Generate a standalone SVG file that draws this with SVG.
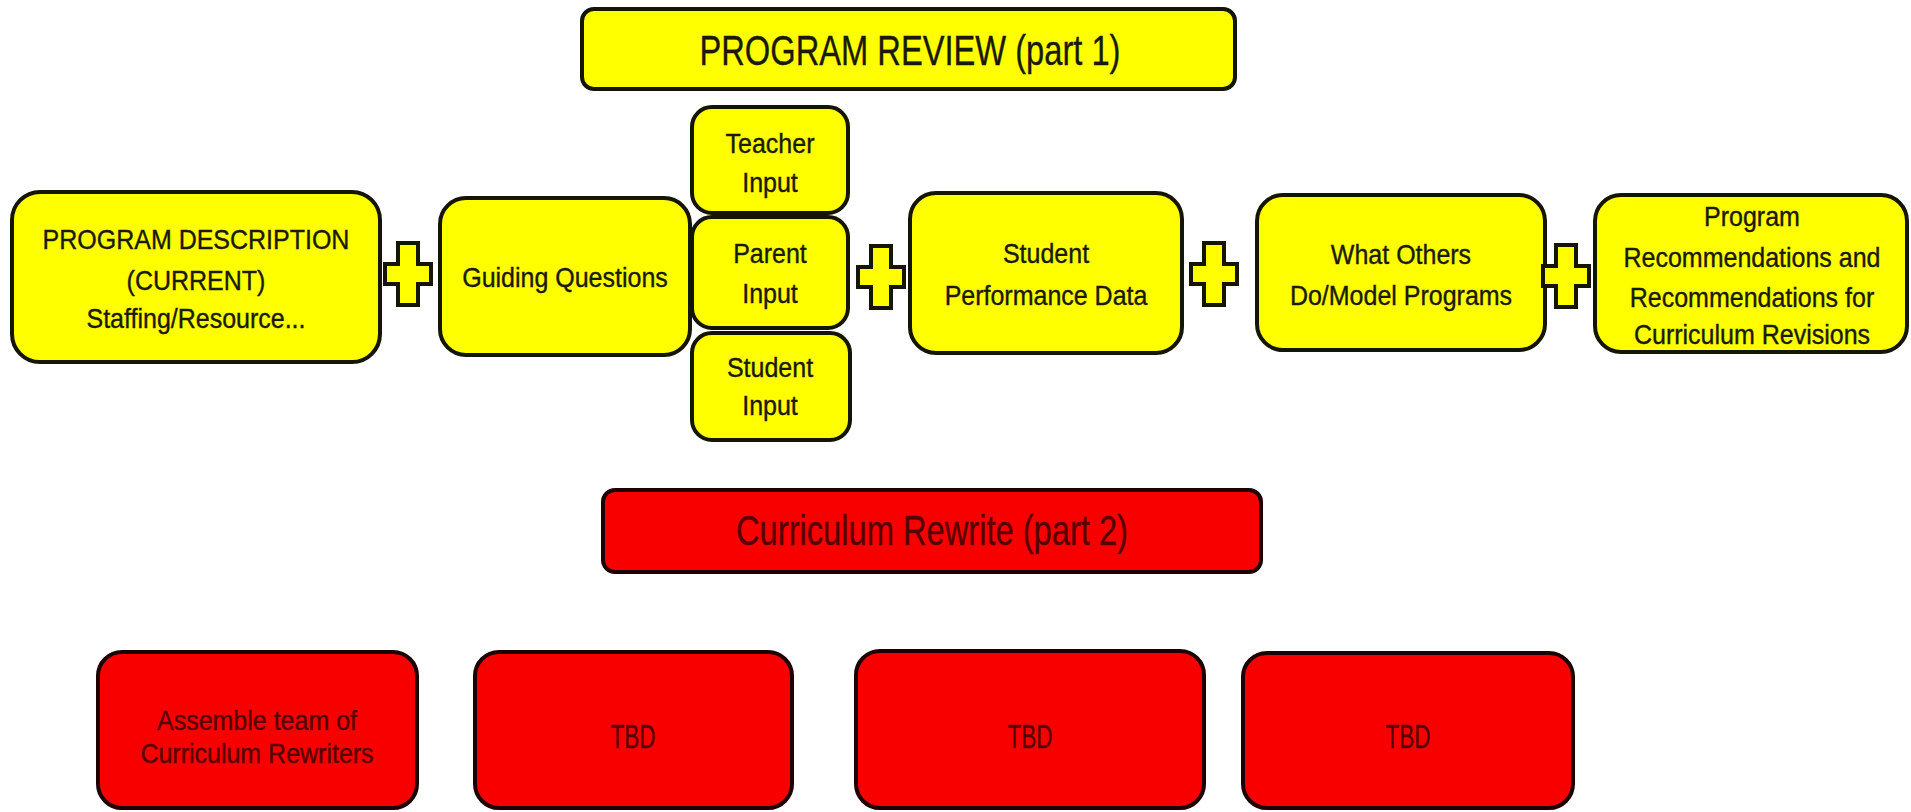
<svg xmlns="http://www.w3.org/2000/svg" xmlns:xlink="http://www.w3.org/1999/xlink" width="1911" height="812" viewBox="0 0 1911 812">
<style>
.y{fill:#ffff00;stroke:#151505;stroke-width:4}
.r{fill:#f80000;stroke:#1e0000;stroke-width:4}
.t{font-family:"Liberation Sans",Arial,sans-serif;font-size:25px;fill:#1a1a08;stroke:#1a1a08;stroke-width:0.35;text-anchor:middle}
.tr{font-family:"Liberation Sans",Arial,sans-serif;font-size:25px;fill:#560000;stroke:#560000;stroke-width:0.35;text-anchor:middle}
.big{font-size:43px}
.plus{fill:#ffff00;stroke:#151505;stroke-width:4;stroke-linejoin:miter}
</style>
<defs>
<path id="plus" d="M-10,-31 h20 v21 h13 v20 h-13 v21 h-20 v-21 h-13 v-20 h13 z"/>
</defs>
<rect width="1911" height="812" fill="#ffffff"/>

<g id="title">
<rect class="y" x="582" y="9" width="653" height="80" rx="12"/>
<text class="t big" x="910" y="65" textLength="421" lengthAdjust="spacingAndGlyphs">PROGRAM REVIEW (part 1)</text>
</g>

<g id="program-description">
<rect class="y" x="12" y="192" width="368" height="170" rx="28"/>
<text class="t" transform="translate(196,249) scale(1,1.1)">PROGRAM DESCRIPTION</text>
<text class="t" transform="translate(196,290) scale(1,1.1)">(CURRENT)</text>
<text class="t" transform="translate(196,328) scale(1,1.1)">Staffing/Resource...</text>
</g>

<g id="guiding-questions">
<rect class="y" x="440" y="198" width="250" height="157" rx="26"/>
<text class="t" transform="translate(565,287) scale(1,1.1)">Guiding Questions</text>
</g>

<g id="teacher-input">
<rect class="y" x="692" y="107" width="156" height="106" rx="20"/>
<text class="t" transform="translate(770,153) scale(1,1.1)">Teacher</text>
<text class="t" transform="translate(770,192) scale(1,1.1)">Input</text>
</g>

<g id="parent-input">
<rect class="y" x="692" y="217" width="156" height="111" rx="20"/>
<text class="t" transform="translate(770,263) scale(1,1.1)">Parent</text>
<text class="t" transform="translate(770,303) scale(1,1.1)">Input</text>
</g>

<g id="student-input">
<rect class="y" x="692" y="333" width="158" height="107" rx="20"/>
<text class="t" transform="translate(770,377) scale(1,1.1)">Student</text>
<text class="t" transform="translate(770,415) scale(1,1.1)">Input</text>
</g>

<g id="student-performance">
<rect class="y" x="910" y="193" width="272" height="160" rx="26"/>
<text class="t" transform="translate(1046,263) scale(1,1.1)">Student</text>
<text class="t" transform="translate(1046,305) scale(1,1.1)">Performance Data</text>
</g>

<g id="what-others">
<rect class="y" x="1257" y="195" width="288" height="155" rx="26"/>
<text class="t" transform="translate(1401,264) scale(1,1.1)">What Others</text>
<text class="t" transform="translate(1401,305) scale(1,1.1)">Do/Model Programs</text>
</g>

<g id="recommendations">
<rect class="y" x="1595" y="195" width="312" height="157" rx="26"/>
<text class="t" transform="translate(1752,226) scale(1,1.1)">Program</text>
<text class="t" transform="translate(1752,267) scale(1,1.1)">Recommendations and</text>
<text class="t" transform="translate(1752,307) scale(1,1.1)">Recommendations for</text>
<text class="t" transform="translate(1752,344) scale(1,1.1)">Curriculum Revisions</text>
</g>

<g id="connectors">
<use xlink:href="#plus" class="plus" x="408" y="274"/>
<use xlink:href="#plus" class="plus" x="881" y="277"/>
<use xlink:href="#plus" class="plus" x="1214" y="274"/>
<use xlink:href="#plus" class="plus" x="1566" y="276"/>
</g>

<g id="curriculum-rewrite">
<rect class="r" x="603" y="490" width="658" height="82" rx="12"/>
<text class="tr big" x="932" y="545" textLength="392" lengthAdjust="spacingAndGlyphs">Curriculum Rewrite (part 2)</text>
</g>

<g id="assemble-team">
<rect class="r" x="98" y="652" width="319" height="156" rx="24"/>
<text class="tr" transform="translate(257,730) scale(1,1.1)">Assemble team of</text>
<text class="tr" transform="translate(257,763) scale(1,1.1)">Curriculum Rewriters</text>
</g>

<g id="tbd-1">
<rect class="r" x="475" y="652" width="317" height="156" rx="24"/>
<text class="tr" x="633" y="748" style="font-size:34px" textLength="45" lengthAdjust="spacingAndGlyphs">TBD</text>
</g>

<g id="tbd-2">
<rect class="r" x="856" y="651" width="348" height="157" rx="24"/>
<text class="tr" x="1030" y="748" style="font-size:34px" textLength="45" lengthAdjust="spacingAndGlyphs">TBD</text>
</g>

<g id="tbd-3">
<rect class="r" x="1243" y="653" width="330" height="155" rx="24"/>
<text class="tr" x="1408" y="748" style="font-size:34px" textLength="45" lengthAdjust="spacingAndGlyphs">TBD</text>
</g>
</svg>
